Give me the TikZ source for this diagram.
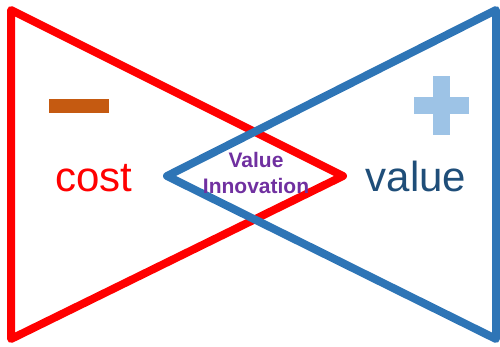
\documentclass[tikz,border=0pt]{standalone}
\usepackage{fontspec}
\setmainfont{Liberation Sans}
\definecolor{costred}{HTML}{FF0000}
\definecolor{valueblue}{HTML}{2E75B6}
\definecolor{valuetext}{HTML}{1F4E79}
\definecolor{minusorange}{HTML}{C55A11}
\definecolor{pluslight}{HTML}{9DC3E6}
\definecolor{innopurple}{HTML}{7030A0}
\begin{document}
\begin{tikzpicture}[x=1pt,y=-1pt,
  wedge/.style={line width=8pt,line join=round,line cap=round},
  bigword/.style={font=\fontsize{42}{44}\selectfont,inner sep=0pt,anchor=base},
  innotext/.style={font=\fontsize{21}{26}\selectfont\bfseries,text=innopurple,align=center,inner sep=0pt}]
  \useasboundingbox (0,0) rectangle (500,347);
  % cost wedge
  \coordinate (rt) at (11,10);
  \coordinate (rb) at (11,339);
  \coordinate (rtip) at (343,176);
  \draw[wedge,costred] (rt) -- (rb) -- (rtip) -- cycle;
  % value wedge, drawn over the cost wedge
  \coordinate (bt) at (496,10);
  \coordinate (bb) at (496,339);
  \coordinate (btip) at (167,176);
  \draw[wedge,valueblue] (bt) -- (btip) -- (bb) -- cycle;
  % minus sign
  \fill[minusorange] (49,99) rectangle (109,113);
  % plus sign
  \fill[pluslight] (414,97) rectangle (469,114);
  \fill[pluslight] (433,76) rectangle (450,135);
  % labels
  \node[bigword,text=costred] (cost) at (94,192) {cost};
  \node[bigword,text=valuetext] (value) at (416,192) {value};
  \node[innotext] (inno) at (256,173) {Value\\Innovation};
\end{tikzpicture}
\end{document}
